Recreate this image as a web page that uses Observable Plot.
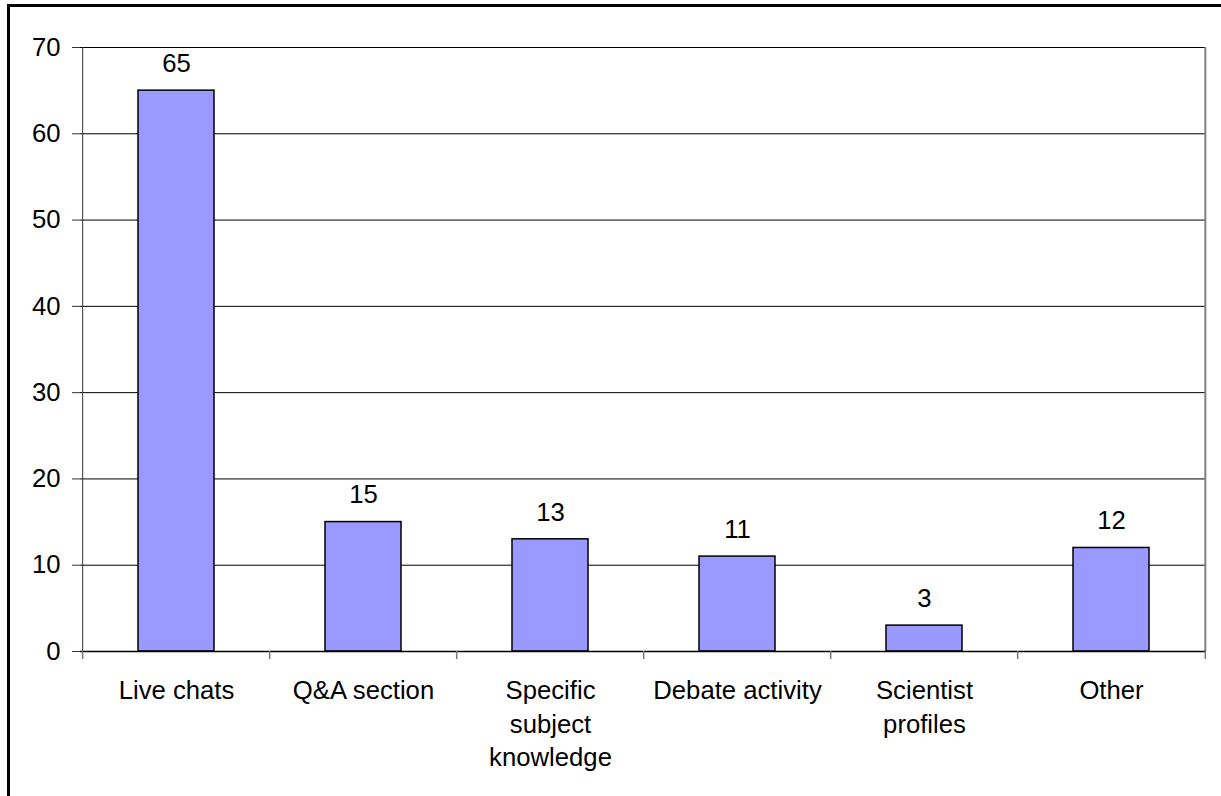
<!DOCTYPE html>
<html>
<head>
<meta charset="utf-8">
<script src="https://cdn.jsdelivr.net/npm/d3@7"></script>
<script src="https://cdn.jsdelivr.net/npm/@observablehq/plot@0.6"></script>
<style>
  html, body { margin: 0; padding: 0; background: #fff; overflow: hidden; }
  #chart { position: absolute; left: 0; top: 0; width: 1221px; height: 796px; }
  #edge { position: absolute; left: 7px; top: 4px; width: 1300px; height: 900px;
          border-left: 3px solid #000; border-top: 3px solid #000; box-sizing: border-box; }
</style>
</head>
<body>
<div id="edge"></div>
<div id="chart"></div>
<script>
// Features named by respondents (count)
const categories = ["Live chats", "Q&A section", "Specific\nsubject\nknowledge", "Debate activity", "Scientist\nprofiles", "Other"];
const counts = [65, 15, 13, 11, 3, 12];
const yTicks = [0, 10, 20, 30, 40, 50, 60, 70];

const data = categories.map((category, i) => ({category, count: counts[i]}));

const W = 1221, H = 796;
const mL = 80, mR = 15, mT = 47, mB = 145;
const step = (W - mL - mR) / categories.length;
const gap = 0.595;
const font = "'Liberation Sans', Arial, sans-serif";
const fs = 25.7;

const chart = Plot.plot({
  width: W,
  height: H,
  marginLeft: mL,
  marginRight: mR,
  marginTop: mT,
  marginBottom: mB,
  style: {fontFamily: font, fontSize: fs + "px", color: "#000", background: "transparent"},
  x: {domain: categories, paddingInner: gap, paddingOuter: gap / 2, axis: null},
  y: {domain: [0, 70], axis: null},
  marks: [
    // horizontal gridlines
    Plot.ruleY(yTicks.filter(t => t > 0), {stroke: "#000", strokeWidth: 1}),
    // right edge of plot area
    Plot.ruleX([categories[categories.length - 1]], {dx: step / 2, y1: 0, y2: 70, stroke: "#808080", strokeWidth: 2}),
    // left axis line
    Plot.ruleX([categories[0]], {dx: -step / 2, y1: 0, y2: 70, stroke: "#333", strokeWidth: 1}),
    // bars
    Plot.barY(data, {x: "category", y: "count", fill: "#9999ff", stroke: "#000", strokeWidth: 1.5}),
    // baseline
    Plot.ruleY([0], {stroke: "#000", strokeWidth: 1.5}),
    // category boundary ticks
    Plot.ruleX(categories, {dx: -step / 2, y1: 0, y2: 0, insetBottom: -8, stroke: "#777", strokeWidth: 1.5}),
    Plot.ruleX([categories[categories.length - 1]], {dx: step / 2, y1: 0, y2: 0, insetBottom: -8, stroke: "#777", strokeWidth: 1.5}),
    // y axis
    Plot.axisY({ticks: yTicks, tickSize: 8, tickPadding: 12, label: null, fontSize: fs, stroke: "#333"}),
    // value labels
    Plot.text(data, {x: "category", y: "count", text: d => String(d.count), dy: -27, fontSize: fs, fill: "#000"}),
    // category labels
    Plot.text(categories, {x: d => d, y: 0, text: d => d, lineAnchor: "top", lineHeight: 1.3, dy: 24, fontSize: fs, fill: "#000"})
  ]
});

document.getElementById("chart").appendChild(chart);
</script>
</body>
</html>
